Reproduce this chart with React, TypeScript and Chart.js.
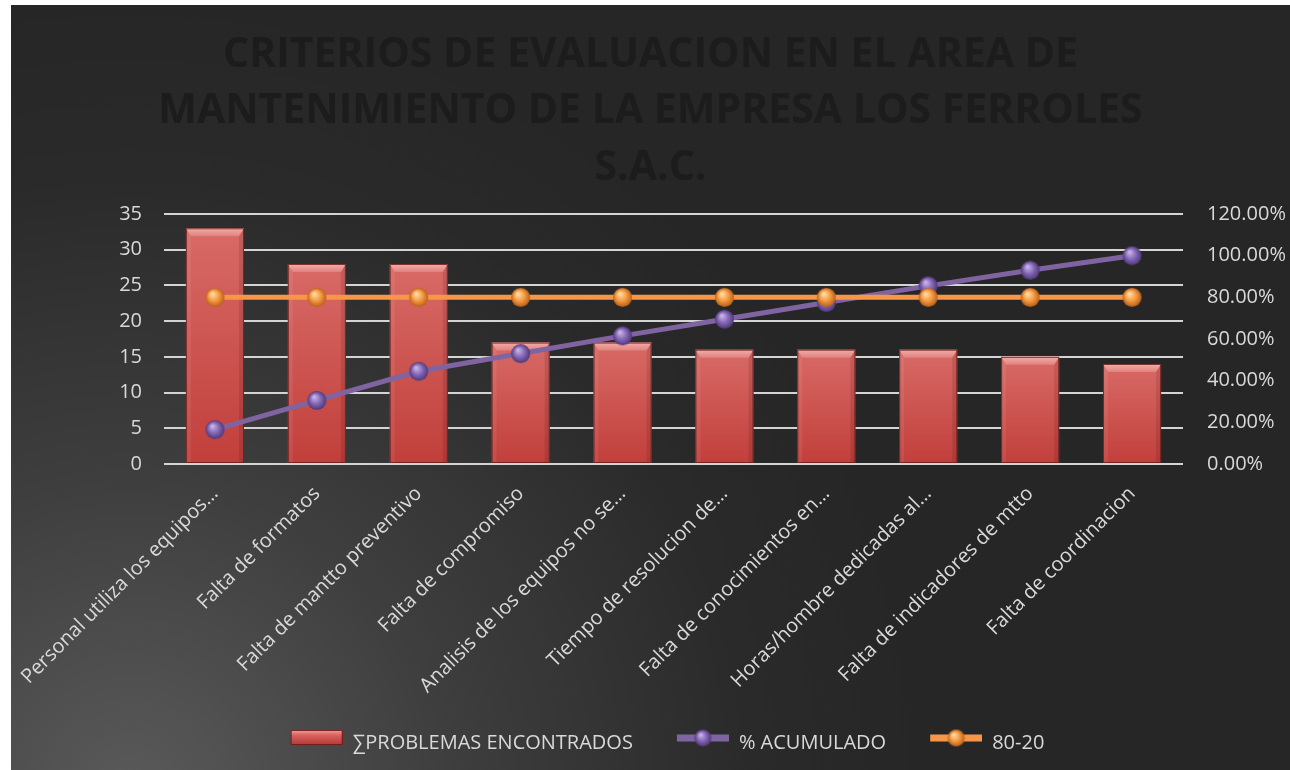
import React, { useEffect, useRef } from 'react';
import { Chart, registerables } from 'chart.js';

Chart.register(...registerables);

const titleLines = [
  'CRITERIOS DE EVALUACION EN EL AREA DE',
  'MANTENIMIENTO DE LA EMPRESA LOS FERROLES',
  'S.A.C.',
];

const categories = [
  'Personal utiliza los equipos…',
  'Falta de formatos',
  'Falta de mantto preventivo',
  'Falta de compromiso',
  'Analisis de los equipos no se…',
  'Tiempo de resolucion de…',
  'Falta de conocimientos en…',
  'Horas/hombre dedicadas al…',
  'Falta de indicadores de mtto',
  'Falta de coordinacion',
];

const problemas = [33, 28, 28, 17, 17, 16, 16, 16, 15, 14];
const acumulado = [16.5, 30.5, 44.5, 53, 61.5, 69.5, 77.5, 85.5, 93, 100];
const ochentaVeinte = [80, 80, 80, 80, 80, 80, 80, 80, 80, 80];

const seriesNames = ['∑PROBLEMAS ENCONTRADOS', '% ACUMULADO', '80-20'];

const leftAxis = { min: 0, max: 35, step: 5 };
const rightAxis = { min: 0, max: 120, step: 20 };

const TEXT = '#d9d9d9';
const FONT = "'Open Sans', sans-serif";

function makeSphere(r: number, light: string, mid: string, dark: string) {
  const c = document.createElement('canvas');
  const s = Math.ceil(r * 2 + 2);
  c.width = s;
  c.height = s;
  const g = c.getContext('2d')!;
  const cx = s / 2, cy = s / 2;
  const grad = g.createRadialGradient(cx - r * 0.3, cy - r * 0.4, r * 0.05, cx, cy, r);
  grad.addColorStop(0, light);
  grad.addColorStop(0.55, mid);
  grad.addColorStop(1, dark);
  g.fillStyle = grad;
  g.beginPath();
  g.arc(cx, cy, r, 0, Math.PI * 2);
  g.fill();
  return c;
}

function makeLegendLine(color: string, sphere: HTMLCanvasElement) {
  const c = document.createElement('canvas');
  c.width = 86;
  c.height = 30;
  const g = c.getContext('2d')!;
  g.fillStyle = color;
  g.fillRect(34, 6.5, 52, 7);
  g.drawImage(sphere, 60 - sphere.width / 2, 10 - sphere.height / 2);
  return c;
}

function makeLegendBar() {
  const c = document.createElement('canvas');
  c.width = 86;
  c.height = 30;
  const g = c.getContext('2d')!;
  const l = 34, t = 2, w = 52, h = 15;
  const grad = g.createLinearGradient(0, t, 0, t + h);
  grad.addColorStop(0, '#f0a09c');
  grad.addColorStop(0.35, '#d9625e');
  grad.addColorStop(1, '#b23a36');
  g.fillStyle = grad;
  g.fillRect(l, t, w, h);
  g.strokeStyle = 'rgba(110,25,25,0.9)';
  g.lineWidth = 1;
  g.strokeRect(l + 0.5, t + 0.5, w - 1, h - 1);
  return c;
}

const bevelPlugin = {
  id: 'bevel',
  afterDatasetDraw(chart: any, args: any) {
    if (args.index !== 0) return;
    const ctx = chart.ctx;
    args.meta.data.forEach((el: any) => {
      const { x, y, base, width } = el.getProps(['x', 'y', 'base', 'width'], true);
      const l = x - width / 2, r = x + width / 2, t = y, b = base;
      const bt = 8, bs = 5;
      ctx.save();
      ctx.beginPath();
      ctx.moveTo(l, t); ctx.lineTo(l + bs, t + bt); ctx.lineTo(l + bs, b); ctx.lineTo(l, b);
      ctx.closePath();
      ctx.fillStyle = 'rgba(255,255,255,0.07)';
      ctx.fill();
      ctx.beginPath();
      ctx.moveTo(r, t); ctx.lineTo(r - bs, t + bt); ctx.lineTo(r - bs, b); ctx.lineTo(r, b);
      ctx.closePath();
      ctx.fillStyle = 'rgba(0,0,0,0.10)';
      ctx.fill();
      const tg = ctx.createLinearGradient(0, t, 0, t + bt);
      tg.addColorStop(0, '#f4aeaa');
      tg.addColorStop(1, '#e0817d');
      ctx.beginPath();
      ctx.moveTo(l, t); ctx.lineTo(r, t); ctx.lineTo(r - bs, t + bt); ctx.lineTo(l + bs, t + bt);
      ctx.closePath();
      ctx.fillStyle = tg;
      ctx.fill();
      ctx.strokeStyle = 'rgba(105,30,30,0.85)';
      ctx.lineWidth = 1;
      ctx.strokeRect(l + 0.5, t + 0.5, width - 1, b - t - 1);
      ctx.restore();
    });
  },
};

export default function App() {
  const ref = useRef<HTMLCanvasElement>(null);

  useEffect(() => {
    if (!ref.current) return;
    const purpleSphere = makeSphere(9.5, '#cbb8ea', '#8466b4', '#4e3878');
    const orangeSphere = makeSphere(9.5, '#ffe0b0', '#f59a40', '#b9601a');
    const legendImgs = [
      makeLegendBar(),
      makeLegendLine('#8064a2', makeSphere(8.5, '#cbb8ea', '#8466b4', '#4e3878')),
      makeLegendLine('#f79646', makeSphere(8.5, '#ffe0b0', '#f59a40', '#b9601a')),
    ];

    const chart = new Chart(ref.current, {
      type: 'bar',
      data: {
        labels: categories,
        datasets: [
          {
            type: 'bar',
            label: seriesNames[0],
            data: problemas,
            yAxisID: 'y',
            order: 3,
            barPercentage: 0.57,
            categoryPercentage: 1.0,
            borderWidth: 0,
            backgroundColor: (c: any) => {
              const ch = c.chart;
              if (!ch.chartArea || c.type !== 'data') return '#c0504d';
              const top = ch.scales.y.getPixelForValue(c.raw);
              const bot = ch.scales.y.getPixelForValue(0);
              const g = ch.ctx.createLinearGradient(0, top, 0, bot);
              g.addColorStop(0, '#d86a66');
              g.addColorStop(1, '#c13f3b');
              return g;
            },
          } as any,
          {
            type: 'line',
            label: seriesNames[1],
            data: acumulado,
            yAxisID: 'y1',
            order: 2,
            borderColor: '#8064a2',
            borderWidth: 5,
            pointStyle: purpleSphere,
            pointRadius: 9,
            tension: 0,
          } as any,
          {
            type: 'line',
            label: seriesNames[2],
            data: ochentaVeinte,
            yAxisID: 'y1',
            order: 1,
            borderColor: '#f79646',
            borderWidth: 5,
            pointStyle: orangeSphere,
            pointRadius: 9,
            tension: 0,
          } as any,
        ],
      },
      options: {
        responsive: true,
        maintainAspectRatio: false,
        animation: false,
        font: { family: FONT },
        layout: { padding: { left: 0, right: 0, top: 0, bottom: 7 }, autoPadding: false },
        plugins: {
          title: {
            display: true,
            text: titleLines,
            color: '#1c1c1c',
            font: { family: FONT, size: 41, weight: 'bold', lineHeight: '56.5px' },
            padding: { top: 22, bottom: 17.5 },
          },
          legend: {
            display: true,
            position: 'bottom',
            labels: {
              usePointStyle: true,
              pointStyleWidth: 86,
              padding: 10,
              color: TEXT,
              font: { family: FONT, size: 20 },
              generateLabels: () =>
                seriesNames.map((name, i) => ({
                  text: name,
                  fillStyle: 'transparent',
                  strokeStyle: 'transparent',
                  lineWidth: 0,
                  pointStyle: legendImgs[i],
                  hidden: false,
                  datasetIndex: i,
                  fontColor: TEXT,
                })),
            },
          },
          tooltip: { enabled: false },
        },
        scales: {
          x: {
            grid: { display: false, drawTicks: false },
            border: { display: false },
            ticks: {
              color: TEXT,
              font: { family: FONT, size: 20 },
              minRotation: 45,
              maxRotation: 45,
              autoSkip: false,
              padding: 18,
            },
            afterFit: (s: any) => {
              s.height = 259;
              s.paddingLeft = 0;
              s.paddingRight = 0;
            },
          },
          y: {
            position: 'left',
            min: leftAxis.min,
            max: leftAxis.max,
            ticks: { stepSize: leftAxis.step, color: TEXT, font: { family: FONT, size: 20 }, padding: 22 },
            grid: { color: '#d4d4d4', lineWidth: 2, drawTicks: false },
            border: { display: false },
            afterFit: (s: any) => { s.width = 153; },
          },
          y1: {
            position: 'right',
            min: rightAxis.min,
            max: rightAxis.max,
            ticks: {
              stepSize: rightAxis.step,
              color: TEXT,
              font: { family: FONT, size: 20 },
              padding: 24,
              callback: (v: any) => Number(v).toFixed(2) + '%',
            },
            grid: { display: false, drawTicks: false },
            border: { display: false },
            afterFit: (s: any) => { s.width = 107; },
          },
        },
      } as any,
      plugins: [bevelPlugin],
    });
    return () => chart.destroy();
  }, []);

  return (
    <div
      style={{
        position: 'fixed',
        left: 11,
        top: 5,
        width: 1279,
        height: 765,
        background:
          'radial-gradient(circle at 120px 790px, #5a5a5a 0px, #3e3e3e 320px, #2a2a2a 620px, #262626 800px)',
      }}
    >
      <canvas ref={ref} style={{ display: 'block' }} />
    </div>
  );
}
